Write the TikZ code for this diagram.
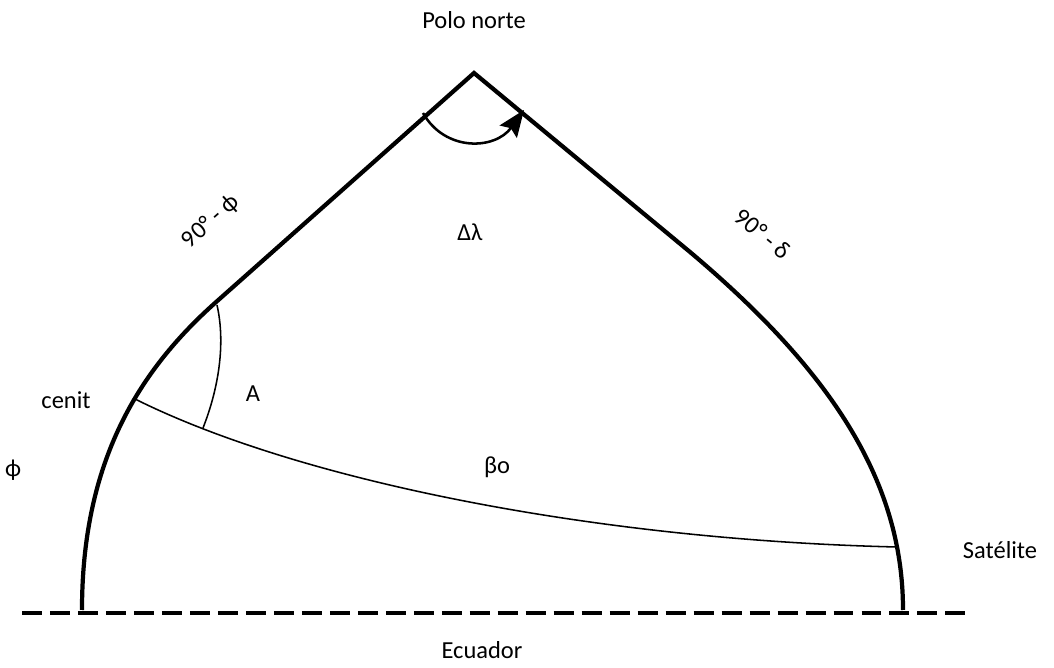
\documentclass[tikz,border=0pt]{standalone}
\usepackage{fontspec}
\setmainfont{Carlito}
\usetikzlibrary{arrows.meta}

\tikzset{
  borde/.style={line width=3pt, line join=miter},
  fino/.style={line width=1.1pt},
  etiq/.style={font=\fontsize{17.4}{20}\selectfont, inner sep=0pt}
}

\begin{document}
\begin{tikzpicture}[x=0.025cm, y=-0.025cm]
  \useasboundingbox (0,0) rectangle (1054,668);
  % puntos del triangulo
  \coordinate (polo) at (474,73);
  \coordinate (izq) at (82,610);
  \coordinate (der) at (903,610);
  \coordinate (cenit) at (133,398);
  \coordinate (sat) at (897,547);
  % lados
  \draw[borde] (izq) .. controls (82,460) and (140,370) .. (215,303) -- (polo)
    -- (690,252) .. controls (830,370) and (903,480) .. (der);
  % ecuador
  \draw[line width=2.8pt, dash pattern=on 14.2pt off 5.7pt] (22,613) -- (965,613);
  % arco cenit - satelite
  \draw[fino] (cenit) .. controls (300,482) and (600,540) .. (sat);
  % angulo A
  \draw[fino] (217,305) .. controls (226,345) and (218,390) .. (203,428);
  % angulo en el polo
  \draw[line width=1.8pt, -{Stealth[length=19pt, width=15pt, inset=3pt]}]
    (423,113) .. controls (445,152) and (495,150) .. (524,110);
  % textos
  \node[etiq] (tpolo) at (474,20) {Polo norte};
  \node[etiq] (tdl) at (470,232) {Δλ};
  \node[etiq, rotate=41.6] (tphi) at (211,222) {90° - ϕ};
  \node[etiq, rotate=-39.6] (tdelta) at (763,234) {90° - δ};
  \node[etiq] (tcenit) at (66,400) {cenit};
  \node[etiq] (tA) at (253,394) {A};
  \node[etiq] (tbeta) at (497,467) {βo};
  \node[etiq] (tlat) at (13,470) {ϕ};
  \node[etiq] (tsat) at (1000,550) {Satélite};
  \node[etiq] (tecu) at (482,650) {Ecuador};
\end{tikzpicture}
\end{document}
